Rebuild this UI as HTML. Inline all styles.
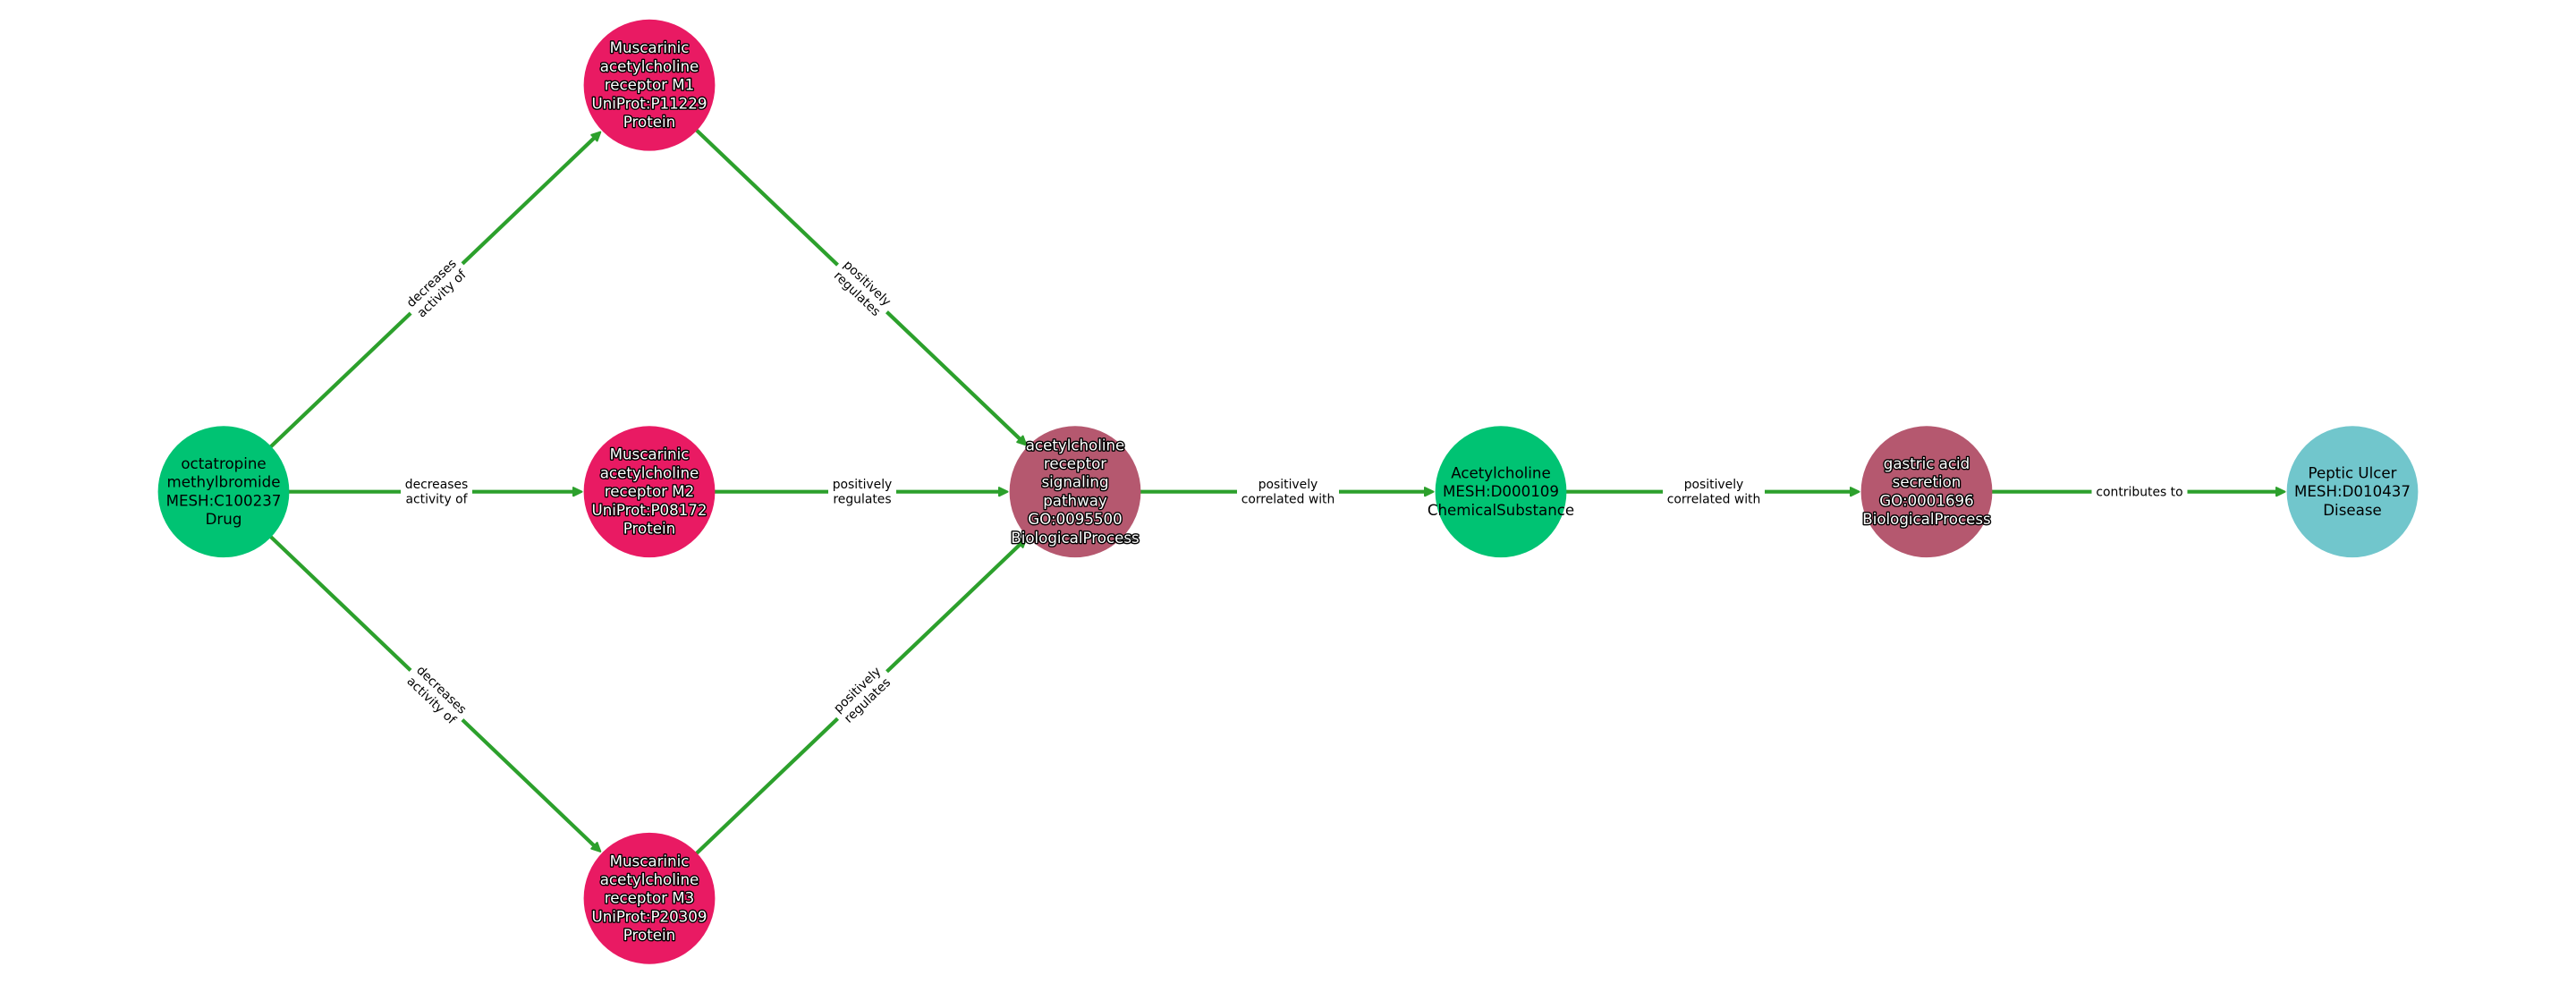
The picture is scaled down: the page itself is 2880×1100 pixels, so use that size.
<!DOCTYPE html>
<html>
<head>
<meta charset="utf-8">
<title>Drug mechanism pathway graph</title>
<style>
html,body{margin:0;padding:0;background:#fff;}
svg{display:block;}
text{font-family:"DejaVu Sans","Liberation Sans",sans-serif;text-anchor:middle;}
.n{font-size:16.67px;fill:#000;}
.o{font-size:16.67px;fill:#fff;stroke:#000;stroke-width:2.8px;paint-order:stroke;stroke-linejoin:round;}
.e{font-size:13.9px;fill:#000;}
.l{stroke:#2ca02c;stroke-width:4.2;fill:none;}
.a{fill:#2ca02c;stroke:#2ca02c;stroke-width:2;stroke-linejoin:round;}
</style>
</head>
<body>
<svg xmlns="http://www.w3.org/2000/svg" width="2880" height="1100" viewBox="0 0 2880 1100">
<rect width="2880" height="1100" fill="#fff"/>

<!-- edges -->
<line class="l" x1="250" y1="549.7" x2="668" y2="150.7"/>
<line class="l" x1="250" y1="549.7" x2="646" y2="549.7"/>
<line class="l" x1="250" y1="549.7" x2="668" y2="949"/>
<line class="l" x1="726" y1="95.2" x2="1144" y2="494.3"/>
<line class="l" x1="726" y1="549.7" x2="1122" y2="549.7"/>
<line class="l" x1="726" y1="1004.3" x2="1144" y2="605.2"/>
<line class="l" x1="1202" y1="549.7" x2="1598" y2="549.7"/>
<line class="l" x1="1678" y1="549.7" x2="2074" y2="549.7"/>
<line class="l" x1="2154" y1="549.7" x2="2550" y2="549.7"/>

<!-- arrowheads -->
<g transform="translate(672,146.9) rotate(-43.67)"><polygon class="a" points="-1,0 -10.5,-4.6 -10.5,4.6"/></g>
<g transform="translate(651.5,549.7)"><polygon class="a" points="-1,0 -10.5,-4.6 -10.5,4.6"/></g>
<g transform="translate(672,952.6) rotate(43.67)"><polygon class="a" points="-1,0 -10.5,-4.6 -10.5,4.6"/></g>
<g transform="translate(1148,498.1) rotate(43.67)"><polygon class="a" points="-1,0 -10.5,-4.6 -10.5,4.6"/></g>
<g transform="translate(1127.5,549.7)"><polygon class="a" points="-1,0 -10.5,-4.6 -10.5,4.6"/></g>
<g transform="translate(1148,601.3) rotate(-43.67)"><polygon class="a" points="-1,0 -10.5,-4.6 -10.5,4.6"/></g>
<g transform="translate(1603.5,549.7)"><polygon class="a" points="-1,0 -10.5,-4.6 -10.5,4.6"/></g>
<g transform="translate(2079.5,549.7)"><polygon class="a" points="-1,0 -10.5,-4.6 -10.5,4.6"/></g>
<g transform="translate(2555.5,549.7)"><polygon class="a" points="-1,0 -10.5,-4.6 -10.5,4.6"/></g>

<!-- nodes -->
<circle cx="250" cy="549.7" r="73.4" fill="#00c373"/>
<circle cx="726" cy="95.2" r="73.4" fill="#e91a63"/>
<circle cx="726" cy="549.7" r="73.4" fill="#e91a63"/>
<circle cx="726" cy="1004.3" r="73.4" fill="#e91a63"/>
<circle cx="1202" cy="549.7" r="73.4" fill="#b5586f"/>
<circle cx="1678" cy="549.7" r="73.4" fill="#00c373"/>
<circle cx="2154" cy="549.7" r="73.4" fill="#b5586f"/>
<circle cx="2630" cy="549.7" r="73.4" fill="#71c6cc"/>

<!-- edge labels -->
<g transform="translate(488,322.4) rotate(-43.67)">
  <rect x="-40" y="-20" width="80" height="40" fill="#fff"/>
  <text class="e" y="-3.6">decreases</text><text class="e" y="12.8">activity of</text>
</g>
<g transform="translate(488,549.7)">
  <rect x="-40" y="-20" width="80" height="40" fill="#fff"/>
  <text class="e" y="-3.6">decreases</text><text class="e" y="12.8">activity of</text>
</g>
<g transform="translate(488,777) rotate(43.67)">
  <rect x="-40" y="-20" width="80" height="40" fill="#fff"/>
  <text class="e" y="-3.6">decreases</text><text class="e" y="12.8">activity of</text>
</g>
<g transform="translate(964,322.4) rotate(43.67)">
  <rect x="-38" y="-20" width="76" height="40" fill="#fff"/>
  <text class="e" y="-3.6">positively</text><text class="e" y="12.8">regulates</text>
</g>
<g transform="translate(964,549.7)">
  <rect x="-38" y="-20" width="76" height="40" fill="#fff"/>
  <text class="e" y="-3.6">positively</text><text class="e" y="12.8">regulates</text>
</g>
<g transform="translate(964,777) rotate(-43.67)">
  <rect x="-38" y="-20" width="76" height="40" fill="#fff"/>
  <text class="e" y="-3.6">positively</text><text class="e" y="12.8">regulates</text>
</g>
<g transform="translate(1440,549.7)">
  <rect x="-57" y="-20" width="114" height="40" fill="#fff"/>
  <text class="e" y="-3.6">positively</text><text class="e" y="12.8">correlated with</text>
</g>
<g transform="translate(1916,549.7)">
  <rect x="-57" y="-20" width="114" height="40" fill="#fff"/>
  <text class="e" y="-3.6">positively</text><text class="e" y="12.8">correlated with</text>
</g>
<g transform="translate(2392,549.7)">
  <rect x="-53.5" y="-12" width="107" height="24" fill="#fff"/>
  <text class="e" y="4.6">contributes to</text>
</g>

<!-- node labels -->
<text class="n" x="250" y="524">octatropine</text>
<text class="n" x="250" y="544.7">methylbromide</text>
<text class="n" x="250" y="565.4">MESH:C100237</text>
<text class="n" x="250" y="586.1">Drug</text>

<text class="o" x="726" y="59.2">Muscarinic</text>
<text class="o" x="726" y="79.9">acetylcholine</text>
<text class="o" x="726" y="100.6">receptor M1</text>
<text class="o" x="726" y="121.3">UniProt:P11229</text>
<text class="o" x="726" y="142">Protein</text>

<text class="o" x="726" y="513.7">Muscarinic</text>
<text class="o" x="726" y="534.4">acetylcholine</text>
<text class="o" x="726" y="555.1">receptor M2</text>
<text class="o" x="726" y="575.8">UniProt:P08172</text>
<text class="o" x="726" y="596.5">Protein</text>

<text class="o" x="726" y="968.3">Muscarinic</text>
<text class="o" x="726" y="989">acetylcholine</text>
<text class="o" x="726" y="1009.7">receptor M3</text>
<text class="o" x="726" y="1030.4">UniProt:P20309</text>
<text class="o" x="726" y="1051.1">Protein</text>

<text class="o" x="1202" y="503.3">acetylcholine</text>
<text class="o" x="1202" y="524">receptor</text>
<text class="o" x="1202" y="544.7">signaling</text>
<text class="o" x="1202" y="565.4">pathway</text>
<text class="o" x="1202" y="586.1">GO:0095500</text>
<text class="o" x="1202" y="606.8">BiologicalProcess</text>

<text class="n" x="1678" y="534.4">Acetylcholine</text>
<text class="n" x="1678" y="555.1">MESH:D000109</text>
<text class="n" x="1678" y="575.8">ChemicalSubstance</text>

<text class="o" x="2154" y="524">gastric acid</text>
<text class="o" x="2154" y="544.7">secretion</text>
<text class="o" x="2154" y="565.4">GO:0001696</text>
<text class="o" x="2154" y="586.1">BiologicalProcess</text>

<text class="n" x="2630" y="534.4">Peptic Ulcer</text>
<text class="n" x="2630" y="555.1">MESH:D010437</text>
<text class="n" x="2630" y="575.8">Disease</text>
</svg>
</body>
</html>
